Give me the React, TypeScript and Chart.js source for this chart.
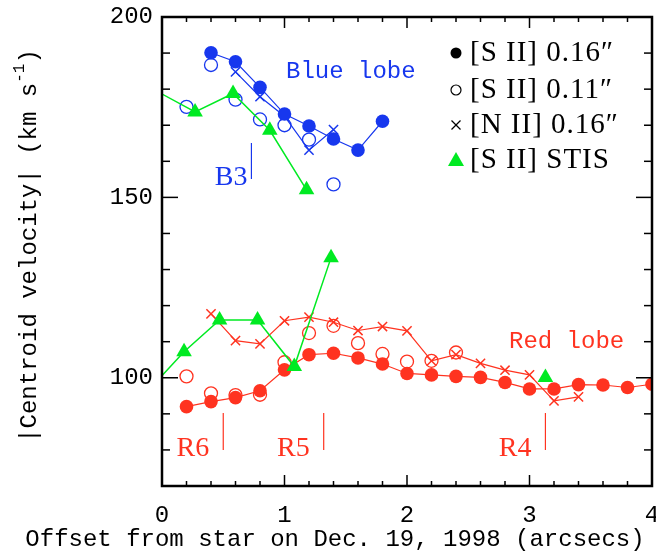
import React, { useEffect, useRef } from "react";
import { Chart, registerables } from "chart.js";

Chart.register(...registerables);

const BLUE = "#1737ee";
const RED = "#ff3320";
const GREEN = "#00ea22";

// Blue lobe
const xBlueFilled = [0.4, 0.6, 0.8, 1.0, 1.2, 1.4, 1.6, 1.8];
const yBlueFilled = [190.1, 187.6, 180.5, 173.1, 169.8, 166.2, 163.1, 171.1];
const xBlueOpen = [0.2, 0.4, 0.6, 0.8, 1.0, 1.2, 1.4];
const yBlueOpen = [175.1, 186.7, 177.1, 171.6, 170.0, 166.0, 153.6];
const xBlueCross = [0.6, 0.8, 1.0, 1.2, 1.4];
const yBlueCross = [184.8, 177.9, 172.5, 163.1, 168.8];
const xBlueStis = [-0.1, 0.27, 0.58, 0.88, 1.18];
const yBlueStis = [180.5, 173.7, 178.8, 168.6, 152.1];

// Red lobe
const xRedFilled = [0.2, 0.4, 0.6, 0.8, 1.0, 1.2, 1.4, 1.6, 1.8, 2.0, 2.2, 2.4, 2.6, 2.8, 3.0, 3.2, 3.4, 3.6, 3.8, 4.0];
const yRedFilled = [92.0, 93.4, 94.5, 96.4, 102.2, 106.4, 106.8, 105.5, 103.8, 101.2, 100.8, 100.4, 100.1, 98.7, 96.9, 96.9, 98.1, 98.0, 97.3, 98.2];
const xRedOpen = [0.2, 0.4, 0.6, 0.8, 1.0, 1.2, 1.4, 1.6, 1.8, 2.0, 2.2, 2.4];
const yRedOpen = [100.4, 95.7, 95.2, 95.3, 104.3, 112.4, 114.4, 109.6, 106.6, 104.5, 104.7, 107.0];
const xRedCross = [0.4, 0.6, 0.8, 1.0, 1.2, 1.4, 1.6, 1.8, 2.0, 2.2, 2.4, 2.6, 2.8, 3.0, 3.2, 3.4];
const yRedCross = [117.7, 110.3, 109.4, 115.8, 116.8, 115.4, 113.1, 114.2, 113.0, 104.7, 106.4, 104.0, 102.1, 100.8, 93.6, 94.7];
const xRedStis = [-0.12, 0.18, 0.47, 0.78, 1.08, 1.38];
const yRedStis = [96.2, 107.2, 116.0, 116.0, 103.1, 133.3];
const xRedStisLone = [3.13];
const yRedStisLone = [100.1];

// Knot markers
const blueKnotNames = ["B3"];
const blueKnotX = [0.73];
const redKnotNames = ["R6", "R5", "R4"];
const redKnotX = [0.5, 1.32, 3.13];

// Axes
const xTickLabels = [0, 1, 2, 3, 4];
const yTickLabels = [100, 150, 200];
const xMinorTicks = [0, 0.2, 0.4, 0.6, 0.8, 1, 1.2, 1.4, 1.6, 1.8, 2, 2.2, 2.4, 2.6, 2.8, 3, 3.2, 3.4, 3.6, 3.8, 4];
const yMinorTicks = [70, 80, 90, 100, 110, 120, 130, 140, 150, 160, 170, 180, 190, 200];

const legendLabels = ["[S II] 0.16\u2033", "[S II] 0.11\u2033", "[N II] 0.16\u2033", "[S II] STIS"];

const pts = (xs: number[], ys: number[]) => xs.map((x, i) => ({ x, y: ys[i] }));

const MONO = "'Liberation Mono', 'DejaVu Sans Mono', monospace";
const SERIF = "'Liberation Serif', 'DejaVu Serif', serif";

export default function App() {
  const ref = useRef<HTMLCanvasElement>(null);

  useEffect(() => {
    const canvas = ref.current!;

    const overlay = {
      id: "overlay",
      afterDraw(chart: any) {
        const ctx = chart.ctx as CanvasRenderingContext2D;
        const { left, right, top, bottom } = chart.chartArea;
        const xs = chart.scales.x;
        const ys = chart.scales.y;
        ctx.save();
        const line = (x1: number, y1: number, x2: number, y2: number) => {
          ctx.beginPath();
          ctx.moveTo(x1, y1);
          ctx.lineTo(x2, y2);
          ctx.stroke();
        };
        // ticks
        ctx.strokeStyle = "#000";
        ctx.lineWidth = 1.5;
        for (const v of xMinorTicks) {
          const major = xTickLabels.includes(v);
          const px = xs.getPixelForValue(v);
          const len = major ? 11 : 5;
          line(px, bottom, px, bottom - len);
          line(px, top, px, top + len);
        }
        for (const v of yMinorTicks) {
          const major = yTickLabels.includes(v);
          const py = ys.getPixelForValue(v);
          const len = major ? 16 : 8;
          line(left, py, left + len, py);
          line(right, py, right - len, py);
        }
        // frame
        ctx.lineWidth = 2.5;
        ctx.strokeRect(left, top, right - left, bottom - top);

        // axis titles
        ctx.fillStyle = "#000";
        ctx.font = `24px ${MONO}`;
        ctx.textBaseline = "middle";
        ctx.textAlign = "center";
        ctx.fillText("Offset from star on Dec. 19, 1998 (arcsecs)", 335, 540);

        ctx.save();
        ctx.translate(30, 246);
        ctx.rotate(-Math.PI / 2);
        const p1 = "|Centroid velocity| (km s";
        const p2 = "-1";
        const p3 = ")";
        ctx.font = `24px ${MONO}`;
        const w1 = ctx.measureText(p1).width;
        const w3 = ctx.measureText(p3).width;
        ctx.font = `16px ${MONO}`;
        const w2 = ctx.measureText(p2).width;
        let sx = -(w1 + w2 + w3) / 2;
        ctx.textAlign = "left";
        ctx.font = `24px ${MONO}`;
        ctx.fillText(p1, sx, 0);
        sx += w1;
        ctx.font = `16px ${MONO}`;
        ctx.fillText(p2, sx, -10);
        sx += w2;
        ctx.font = `24px ${MONO}`;
        ctx.fillText(p3, sx, 0);
        ctx.restore();

        // legend
        const rows = [53, 90, 125, 160];
        const mx = 456;
        ctx.textAlign = "left";
        ctx.font = `29px ${SERIF}`;
        (ctx as any).letterSpacing = "1px";
        ctx.fillStyle = "#000";
        legendLabels.forEach((t, i) => ctx.fillText(t, 470, rows[i]));
        (ctx as any).letterSpacing = "0px";
        // markers
        ctx.beginPath();
        ctx.arc(mx, rows[0], 5.5, 0, Math.PI * 2);
        ctx.fill();
        ctx.lineWidth = 1.2;
        ctx.beginPath();
        ctx.arc(mx, rows[1], 5, 0, Math.PI * 2);
        ctx.stroke();
        line(mx - 4.5, rows[2] - 4.5, mx + 4.5, rows[2] + 4.5);
        line(mx - 4.5, rows[2] + 4.5, mx + 4.5, rows[2] - 4.5);
        ctx.fillStyle = GREEN;
        ctx.beginPath();
        ctx.moveTo(mx, rows[3] - 8);
        ctx.lineTo(mx + 8, rows[3] + 6);
        ctx.lineTo(mx - 8, rows[3] + 6);
        ctx.closePath();
        ctx.fill();

        // annotations
        ctx.fillStyle = BLUE;
        ctx.font = `24px ${MONO}`;
        ctx.fillText("Blue lobe", 286, 72);
        ctx.fillStyle = RED;
        ctx.fillText("Red lobe", 509, 342);

        ctx.font = `28px ${SERIF}`;
        ctx.lineWidth = 1.2;
        ctx.strokeStyle = BLUE;
        ctx.fillStyle = BLUE;
        ctx.textAlign = "right";
        blueKnotNames.forEach((n, i) => {
          const px = xs.getPixelForValue(blueKnotX[i]);
          line(px, 143, px, 179);
          ctx.fillText(n, px - 4, 178);
        });
        ctx.strokeStyle = RED;
        ctx.fillStyle = RED;
        redKnotNames.forEach((n, i) => {
          const px = xs.getPixelForValue(redKnotX[i]);
          line(px, 413, px, 450);
          ctx.fillText(n, px - 14, 449);
        });
        ctx.restore();
      },
    };

    const filled = (c: string) => ({
      pointStyle: "circle",
      pointRadius: 6.8,
      pointBackgroundColor: c,
      pointBorderColor: c,
      pointBorderWidth: 0,
      borderColor: c,
      borderWidth: 1.2,
      showLine: true,
      clip: 0,
    });
    const open = (c: string) => ({
      pointStyle: "circle",
      pointRadius: 6.5,
      pointBackgroundColor: "rgba(0,0,0,0)",
      pointBorderColor: c,
      pointBorderWidth: 1.3,
      showLine: false,
      clip: 0,
    });
    const cross = (c: string) => ({
      pointStyle: "crossRot",
      pointRadius: 6.5,
      pointBorderColor: c,
      pointBorderWidth: 1.5,
      borderColor: c,
      borderWidth: 1.2,
      showLine: true,
      clip: 0,
    });
    const stis = (lines: boolean) => ({
      pointStyle: "triangle",
      pointRadius: 9,
      pointBackgroundColor: GREEN,
      pointBorderColor: GREEN,
      pointBorderWidth: 0,
      borderColor: GREEN,
      borderWidth: 1.5,
      showLine: lines,
      clip: 0,
    });

    const chart = new Chart(canvas, {
      type: "scatter",
      data: {
        datasets: [
          { label: "STIS blue", data: pts(xBlueStis, yBlueStis), ...stis(true) },
          { label: "STIS red", data: pts(xRedStis, yRedStis), ...stis(true) },
          { label: "STIS red lone", data: pts(xRedStisLone, yRedStisLone), ...stis(false) },
          { label: "[S II] 0.16 blue", data: pts(xBlueFilled, yBlueFilled), ...filled(BLUE) },
          { label: "[S II] 0.16 red", data: pts(xRedFilled, yRedFilled), ...filled(RED) },
          { label: "[N II] 0.16 blue", data: pts(xBlueCross, yBlueCross), ...cross(BLUE) },
          { label: "[N II] 0.16 red", data: pts(xRedCross, yRedCross), ...cross(RED) },
          { label: "[S II] 0.11 blue", data: pts(xBlueOpen, yBlueOpen), ...open(BLUE) },
          { label: "[S II] 0.11 red", data: pts(xRedOpen, yRedOpen), ...open(RED) },
        ] as any,
      },
      options: {
        animation: false,
        responsive: false,
        events: [],
        layout: { autoPadding: false, padding: { top: 17, right: 4, left: 0, bottom: 0 } },
        plugins: { legend: { display: false }, tooltip: { enabled: false } },
        scales: {
          x: {
            type: "linear",
            min: 0,
            max: 4,
            afterBuildTicks: (s: any) => {
              s.ticks = xTickLabels.map((v) => ({ value: v }));
            },
            afterFit: (s: any) => {
              s.height = 68;
              s.paddingLeft = 0;
              s.paddingRight = 0;
            },
            grid: { display: false, drawTicks: false },
            border: { display: false },
            ticks: {
              autoSkip: false,
              maxRotation: 0,
              padding: 15,
              color: "#000",
              font: { family: MONO, size: 24 },
              callback: (v: any) => String(v),
            },
          },
          y: {
            type: "linear",
            min: 70,
            max: 200,
            afterBuildTicks: (s: any) => {
              s.ticks = yTickLabels.map((v) => ({ value: v }));
            },
            afterFit: (s: any) => {
              s.width = 162;
              s.paddingTop = 0;
              s.paddingBottom = 0;
            },
            grid: { display: false, drawTicks: false },
            border: { display: false },
            ticks: {
              padding: 9,
              color: "#000",
              font: { family: MONO, size: 24 },
              callback: (v: any) => String(v),
            },
          },
        },
      } as any,
      plugins: [overlay],
    });
    return () => chart.destroy();
  }, []);

  return (
    <div style={{ position: "fixed", left: 0, top: 0, width: 656, height: 554, background: "#fff" }}>
      <canvas ref={ref} width={656} height={554} style={{ display: "block", width: 656, height: 554 }} />
    </div>
  );
}
